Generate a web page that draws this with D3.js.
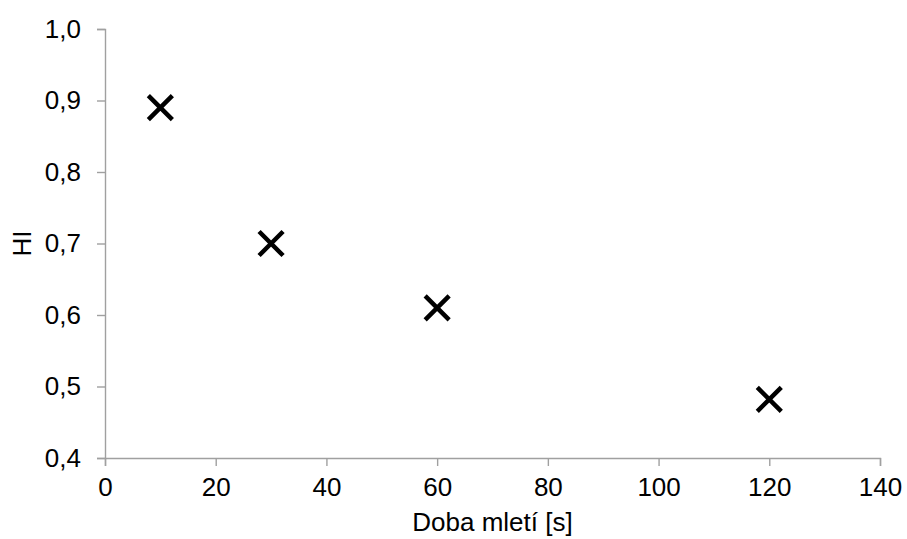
<!DOCTYPE html>
<html><head><meta charset="utf-8">
<script src="https://cdn.jsdelivr.net/npm/d3@7"></script>
<style>body{margin:0;background:#fff}svg{display:block}text{font-family:"Liberation Sans",Arial,sans-serif}</style>
</head><body><svg id="c" width="907" height="539"></svg>
<script>
const xValues = [10, 30, 60, 120];
const yValues = [0.89, 0.70, 0.61, 0.482];
const xTicks = [0, 20, 40, 60, 80, 100, 120, 140];
const yTicks = [0.4, 0.5, 0.6, 0.7, 0.8, 0.9, 1.0];
const xTitle = "Doba mletí [s]";
const yTitle = "HI";

const svg = d3.select("#c");
const m = {l:105, r:27, t:29, b:81};
const W = 907, H = 539;
const x = d3.scaleLinear().domain([0,140]).range([m.l, W-m.r]);
const y = d3.scaleLinear().domain([0.4,1.0]).range([H-m.b, m.t]);
const fmt = d => d3.format(".1f")(d).replace(".", ",");
const axisColor = "#a0a0a0";
const fs = 26;

const gx = svg.append("g").attr("transform",`translate(0,${y(0.4)})`)
  .call(d3.axisBottom(x).tickValues(xTicks).tickSize(8).tickPadding(12));
const gy = svg.append("g").attr("transform",`translate(${x(0)},0)`)
  .call(d3.axisLeft(y).tickValues(yTicks).tickFormat(fmt).tickSize(8).tickPadding(16));
[gx,gy].forEach(g=>{
  g.selectAll("path,line").attr("stroke",axisColor).attr("stroke-width",1.4);
  g.selectAll("text").attr("fill","#000").style("font-size",fs+"px").style("font-family",'"Liberation Sans",Arial,sans-serif');
});

svg.append("text").attr("x",(x(0)+x(140))/2).attr("y",531).attr("text-anchor","middle")
  .style("font-size",fs+"px").text(xTitle);
svg.append("text").attr("transform",`translate(31,${(y(0.4)+y(1.0))/2}) rotate(-90)`).attr("text-anchor","middle")
  .style("font-size",fs+"px").text(yTitle);

const s = 12;
const pts = svg.append("g").selectAll("g").data(xValues.map((v,i)=>[v,yValues[i]])).join("g")
  .attr("transform",d=>`translate(${x(d[0])},${y(d[1])})`);
pts.append("path").attr("d",`M${-s},${-s}L${s},${s}M${-s},${s}L${s},${-s}`)
  .attr("stroke","#000").attr("stroke-width",4.5).attr("fill","none");
</script></body></html>
